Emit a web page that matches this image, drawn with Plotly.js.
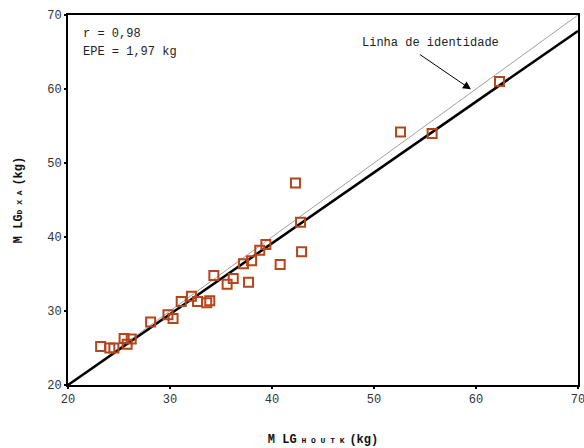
<!DOCTYPE html>
<html>
<head>
<meta charset="utf-8">
<script src="https://cdn.plot.ly/plotly-3.0.1.min.js"></script>
<style>html,body{margin:0;padding:0;background:#fff;}#chart{width:584px;height:448px;}</style>
</head>
<body>
<div id="chart"></div>
<script>
// MLG HOUTK (kg) values
const mlgHoutk = [23.2, 24.1, 24.5, 25.5, 25.8, 26.2, 28.1, 29.8, 30.3, 31.1, 32.1, 32.7, 33.6, 33.9, 34.3, 35.6, 36.2, 37.2, 38.0, 37.7, 38.8, 39.4, 40.8, 42.3, 42.8, 42.9, 52.6, 55.7, 62.3];
// MLG DXA (kg) values
const mlgDxa = [25.2, 25.0, 25.0, 26.3, 25.5, 26.2, 28.5, 29.5, 29.0, 31.3, 32.0, 31.3, 31.1, 31.4, 34.8, 33.6, 34.4, 36.4, 36.8, 33.9, 38.2, 39.0, 36.3, 47.3, 42.0, 38.0, 54.2, 54.0, 61.0];
// regression line endpoints (x) and fitted values
const regX = [20, 70];
const regY = [20.0, 67.85];
// identity line
const idX = [20, 70];
const idY = [20, 70];
const tickVals = [20, 30, 40, 50, 60, 70];

const font = "Liberation Mono, Courier New, monospace";

const traces = [
  {x: idX, y: idY, mode: 'lines', line: {color: '#a0a0a0', width: 1}, hoverinfo: 'skip', showlegend: false},
  {x: regX, y: regY, mode: 'lines', line: {color: '#000000', width: 2.5}, hoverinfo: 'skip', showlegend: false},
  {x: mlgHoutk, y: mlgDxa, mode: 'markers', showlegend: false,
   marker: {symbol: 'square-open', size: 9, color: '#b5451b', line: {width: 2, color: '#b5451b'}}}
];

const layout = {
  width: 584, height: 448,
  margin: {l: 68, r: 6, t: 15, b: 63},
  paper_bgcolor: '#fff', plot_bgcolor: '#fff',
  font: {family: font, size: 12, color: '#333'},
  xaxis: {
    range: [20, 70], tickvals: tickVals, ticktext: tickVals.map(String),
    ticklabeloverflow: 'allow',
    showgrid: false, zeroline: false, showline: true, mirror: true,
    linecolor: '#000', linewidth: 2, ticks: 'outside', ticklen: 2, tickwidth: 2, tickcolor: '#000',
    tickfont: {family: font, size: 12, color: '#333'},
    title: {text: '<b>M LG<span style="font-size:8px"> H O U T K </span>(kg)</b>', font: {family: font, size: 12, color: '#111'}, standoff: 28}
  },
  yaxis: {
    range: [20, 70], tickvals: tickVals, ticktext: tickVals.map(String),
    showgrid: false, zeroline: false, showline: true, mirror: true,
    linecolor: '#000', linewidth: 2, ticks: 'outside', ticklen: 2, tickwidth: 2, tickcolor: '#000',
    tickfont: {family: font, size: 12, color: '#333'},
    title: {text: '<b>M LG<span style="font-size:8px">D X A </span>(kg)</b>', font: {family: font, size: 12, color: '#111'}, standoff: 22}
  },
  annotations: [
    {x: 21.3, y: 67.4, xref: 'x', yref: 'y', text: 'r = 0,98', showarrow: false, xanchor: 'left', yanchor: 'middle', font: {family: font, size: 12, color: '#222'}},
    {x: 21.3, y: 65.05, xref: 'x', yref: 'y', text: 'EPE = 1,97 kg', showarrow: false, xanchor: 'left', yanchor: 'middle', font: {family: font, size: 12, color: '#222'}},
    {x: 55.55, y: 66.2, xref: 'x', yref: 'y', text: 'Linha de identidade', showarrow: false, xanchor: 'center', yanchor: 'middle', font: {family: font, size: 12, color: '#222'}},
    {x: 59.5, y: 59.95, xref: 'x', yref: 'y', ax: 54.35, ay: 64.8, axref: 'x', ayref: 'y', text: '', showarrow: true, arrowhead: 2, arrowsize: 1.6, arrowwidth: 1, arrowcolor: '#000'}
  ]
};

Plotly.newPlot('chart', traces, layout, {displayModeBar: false, staticPlot: true});
</script>
</body>
</html>
